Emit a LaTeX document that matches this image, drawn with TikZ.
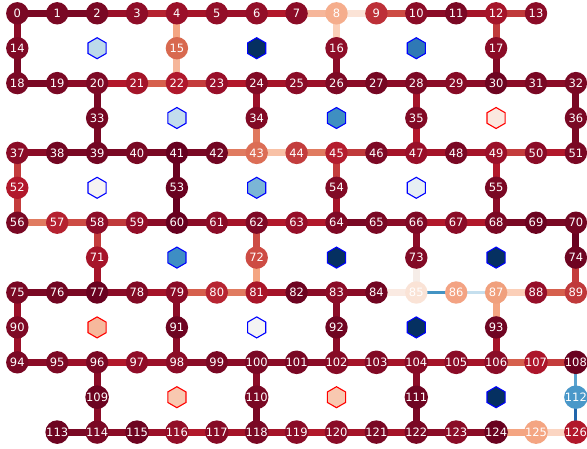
\documentclass[tikz,border=0pt]{standalone}
\usepackage{fontspec}
\newfontfamily\dv{DejaVu Sans}
\usetikzlibrary{shapes.geometric}
\pgfdeclarelayer{back}
\pgfdeclarelayer{bg}
\pgfsetlayers{back,bg,main}
\tikzset{
  qubit/.style={circle,minimum size=22.4pt,inner sep=0pt,text=white,font=\dv\fontsize{11.5}{13}\selectfont},
  plaq/.style={regular polygon,regular polygon sides=6,shape border rotate=30,minimum size=21pt,inner sep=0pt,line width=1.1pt},
  redlink/.style={line width=7pt},
  bluelink/.style={line width=3pt}
}
\begin{document}
\begin{tikzpicture}
\begin{pgfonlayer}{back}
\fill[white] (0,0) rectangle (587pt,-448pt);
\end{pgfonlayer}
\useasboundingbox (0,0) rectangle (587pt,-448pt);
\begin{scope}[shift={(17.3pt,-13.3pt)},x=39.9pt,y=-34.9pt]
\foreach \i/\c/\r/\h in {
0/0/0/7A0824,1/1/0/7A0824,2/2/0/7A0824,3/3/0/8F0D28,4/4/0/9B1029,5/5/0/930E28,6/6/0/930E28,7/7/0/8B0C27,8/8/0/F5AD8C,9/9/0/BD3038,10/10/0/8B0C27,11/11/0/7A0824,12/12/0/A51429,13/13/0/8B0C27,
14/0/1/7F0925,15/4/1/D8694F,16/8/1/8E0D28,17/12/1/8B0C27,
18/0/2/7A0824,19/1/2/7A0824,20/2/2/7D0925,21/3/2/A41529,22/4/2/B0182C,23/5/2/990F29,24/6/2/820A25,25/7/2/8B0C27,26/8/2/7D0925,27/9/2/760723,28/10/2/7D0925,29/11/2/870B26,30/12/2/6E0421,31/13/2/7A0824,32/14/2/7A0824,
33/2/3/760723,34/6/3/820A25,35/10/3/820A25,36/14/3/7A0824,
37/0/4/8B0C27,38/1/4/730622,39/2/4/730622,40/3/4/780823,41/4/4/67001F,42/5/4/720622,43/6/4/DC6E56,44/7/4/C33D3D,45/8/4/B41D2E,46/9/4/7D0925,47/10/4/990F29,48/11/4/7A0824,49/12/4/9B1029,50/13/4/8B0C27,51/14/4/7A0824,
52/0/5/B2182B,53/4/5/6A0220,54/8/5/820A25,55/12/5/7A0824,
56/0/6/7A0824,57/1/6/B52230,58/2/6/8E0D28,59/3/6/930E28,60/4/6/67001F,61/5/6/8B0C27,62/6/6/7F0925,63/7/6/960F29,64/8/6/7F0925,65/9/6/7A0824,66/10/6/7F0925,67/11/6/8B0C27,68/12/6/7A0824,69/13/6/6C0320,70/14/6/720622,
71/2/7/A61429,72/6/7/CD4C44,73/10/7/820A25,74/14/7/6E0421,
75/0/8/7A0824,76/1/8/720622,77/2/8/6A0220,78/3/8/820A25,79/4/8/8B0C27,80/5/8/B72532,81/6/8/A91629,82/7/8/6E0421,83/8/8/8B0C27,84/9/8/720622,85/10/8/FAE3D6,86/11/8/F3A383,87/12/8/F0A07D,88/13/8/960F29,89/14/8/C03A3B,
90/0/9/7F0925,91/4/9/6E0421,92/8/9/700522,93/12/9/700522,
94/0/10/7A0824,95/1/10/7D0925,96/2/10/7A0824,97/3/10/900D28,98/4/10/8B0C27,99/5/10/7A0824,100/6/10/7A0824,101/7/10/7A0824,102/8/10/870B26,103/9/10/820A25,104/10/10/870B26,105/11/10/8B0C27,106/12/10/8B0C27,107/13/10/AD162B,108/14/10/6A0220,
109/2/11/6C0320,110/6/11/7A0824,111/10/11/700522,112/14/11/4A98C9,
113/1/12/6E0421,114/2/12/7A0824,115/3/12/6E0421,116/4/12/930E28,117/5/12/870B26,118/6/12/7A0824,119/7/12/8B0C27,120/8/12/8B0C27,121/9/12/7A0824,122/10/12/7A0824,123/11/12/8B0C27,124/12/12/6A0220,125/13/12/F4A582,126/14/12/B2182B}{
  \definecolor{qc}{HTML}{\h}
  \node[qubit,fill=qc] (q\i) at (\c,\r) {\i};
}
\foreach \n/\c/\r/\h/\b in {
1/2/1/BCDAEA/0000FF,2/6/1/053061/0000FF,3/10/1/2F79B5/0000FF,
4/4/3/C2DDED/0000FF,5/8/3/3F8FC1/0000FF,6/12/3/FBE8DF/FF0000,
7/2/5/F5F3F3/0000FF,8/6/5/7BB6D6/0000FF,9/10/5/E6EFF4/0000FF,
10/4/7/3E8EC4/0000FF,11/8/7/053061/0000FF,12/12/7/053061/0000FF,
13/2/9/F6B89C/FF0000,14/6/9/F4F4F4/0000FF,15/10/9/053061/0000FF,
16/4/11/F8C8B0/FF0000,17/8/11/F8C8B0/FF0000,18/12/11/053061/0000FF}{
  \definecolor{hf}{HTML}{\h}\definecolor{hb}{HTML}{\b}
  \node[plaq,fill=hf,draw=hb] (h\n) at (\c,\r) {};
}
\begin{pgfonlayer}{bg}
\foreach \a/\b/\h in {
0/1/7A0824,1/2/7A0824,2/3/9A1029,3/4/B52230,4/5/A51429,5/6/9B1029,6/7/B2182B,7/8/F6B69A,8/9/FBE3D6,9/10/CD4C44,10/11/8B0C27,11/12/A51429,12/13/C03A3B,
0/14/8B0C27,14/18/7A0824,4/15/F4A582,15/22/F6B69A,8/16/FBCFB8,16/26/8B0C27,12/17/C03A3B,17/30/820A25,
18/19/7A0824,19/20/8B0C27,20/21/B2182B,21/22/D6604D,22/23/C43C3C,23/24/B2182B,24/25/A51429,25/26/9B1029,26/27/8B0C27,27/28/8B0C27,28/29/8B0C27,29/30/8B0C27,30/31/8B0C27,31/32/8B0C27,
20/33/7A0824,33/39/7A0824,24/34/9B1029,34/43/E0785E,28/35/A51429,35/47/B2182B,32/36/7A0824,36/51/7A0824,
37/38/8B0C27,38/39/7A0824,39/40/7A0824,40/41/7A0824,41/42/7A0824,42/43/E07B60,43/44/F8C1A6,44/45/E07B60,45/46/C03A3B,46/47/A51429,47/48/A51429,48/49/A51429,49/50/C43C3C,50/51/B2182B,
37/52/C43C3C,52/56/C43C3C,41/53/6A0220,53/60/67001F,45/54/C43C3C,54/64/A51429,49/55/B2182B,55/68/8B0C27,
56/57/E07B60,57/58/CD4C44,58/59/C03A3B,59/60/8B0C27,60/61/8B0C27,61/62/A51429,62/63/B2182B,63/64/B2182B,64/65/7A0824,65/66/8B0C27,66/67/B2182B,67/68/B2182B,68/69/7A0824,69/70/7A0824,
58/71/C43C3C,71/77/A51429,62/72/CD4C44,72/81/F4A582,66/73/8B0C27,73/85/F6EDE8,70/74/6A0220,74/89/C43C3C,
75/76/7A0824,76/77/7A0824,77/78/8B0C27,78/79/A51429,79/80/D6604D,80/81/E07B60,81/82/A51429,82/83/8B0C27,83/84/8B0C27,84/85/FAEAE2,87/88/FBCFB8,88/89/D6604D,
75/90/9B1029,90/94/9B1029,79/91/8B0C27,91/98/8B0C27,83/92/8B0C27,92/102/8B0C27,87/93/F4A582,93/106/A51429,
94/95/8B0C27,95/96/9B1029,96/97/B2182B,97/98/9B1029,98/99/8B0C27,99/100/8B0C27,100/101/8B0C27,101/102/8B0C27,102/103/A51429,103/104/A51429,104/105/A51429,105/106/A51429,106/107/D6604D,107/108/C43C3C,
96/109/8B0C27,109/114/8B0C27,100/110/8B0C27,110/118/7A0824,104/111/8B0C27,111/122/7A0824,
113/114/7A0824,114/115/8B0C27,115/116/9B1029,116/117/B2182B,117/118/A51429,118/119/A51429,119/120/B2182B,120/121/A51429,121/122/A51429,122/123/8B0C27,123/124/8B0C27,124/125/F4A582,125/126/FBD5C2}{
  \definecolor{ec}{HTML}{\h}
  \draw[redlink,ec] (q\a.center) -- (q\b.center);
}
\foreach \a/\b/\h in {85/86/4393C3,86/87/C5DFEE,108/112/5AA2CF,112/126/2166AC}{
  \definecolor{ec}{HTML}{\h}
  \draw[bluelink,ec] (q\a.center) -- (q\b.center);
}
\end{pgfonlayer}
\end{scope}
\end{tikzpicture}
\end{document}
